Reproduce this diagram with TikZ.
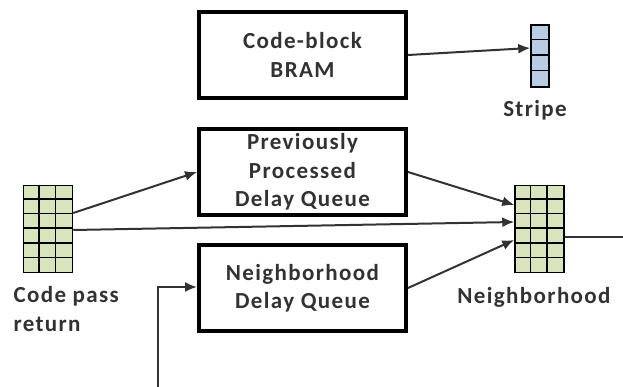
\documentclass[tikz,border=0pt]{standalone}
\usepackage{fontspec}
\setmainfont{Carlito}
\newfontfamily\spacedfont[LetterSpace=6]{Carlito}
\usetikzlibrary{arrows.meta,calc,positioning}
\definecolor{gridgreen}{RGB}{216,228,188}
\definecolor{stripeblue}{RGB}{184,204,228}
\definecolor{inkgray}{RGB}{50,50,50}

\begin{document}
\begin{tikzpicture}[x=1pt,y=-1pt,
  blockbox/.style={draw=black, line width=4pt, minimum width=207pt, minimum height=86pt,
    align=center, text=inkgray, font=\spacedfont\bfseries\fontsize{23}{28.5}\selectfont},
  cellgrid/.style={draw=black, line width=1.5pt, inner sep=0pt},
  link/.style={draw=inkgray, line width=2pt, -{Latex[length=12pt,width=10pt]}},
  caption/.style={text=inkgray, font=\spacedfont\bfseries\fontsize{23}{29}\selectfont}]
\useasboundingbox (0,0) rectangle (623,387);

\node [blockbox] (bram) at (302.5,55) {Code-block\\BRAM};
\node [blockbox] (ppq) at (302.5,172) {Previously\\Processed\\Delay Queue};
\node [blockbox] (ndq) at (302.5,288) {Neighborhood\\Delay Queue};

\node [cellgrid, fill=gridgreen, minimum width=49pt, minimum height=87pt] (cpr) at (48,229) {};
\foreach \i in {1,2}
  \draw [line width=1.5pt] ($(cpr.north west)+(\i*49/3,0)$) -- ($(cpr.south west)+(\i*49/3,0)$);
\foreach \j in {1,2,3,4,5}
  \draw [line width=1.5pt] ($(cpr.north west)+(0,\j*87/6)$) -- ($(cpr.north east)+(0,\j*87/6)$);

\node [cellgrid, fill=gridgreen, minimum width=49pt, minimum height=87pt] (nbh) at (539.5,229) {};
\foreach \i in {1,2}
  \draw [line width=1.5pt] ($(nbh.north west)+(\i*49/3,0)$) -- ($(nbh.south west)+(\i*49/3,0)$);
\foreach \j in {1,2,3,4,5}
  \draw [line width=1.5pt] ($(nbh.north west)+(0,\j*87/6)$) -- ($(nbh.north east)+(0,\j*87/6)$);

\node [cellgrid, fill=stripeblue, minimum width=18pt, minimum height=62pt] (stripe) at (540,56) {};
\foreach \j in {1,2,3}
  \draw [line width=1.5pt] ($(stripe.north west)+(0,\j*62/4)$) -- ($(stripe.north east)+(0,\j*62/4)$);

\node [caption] (stripelbl) at (535,110) {Stripe};
\node [caption] (nbhlbl) at (534,297) {Neighborhood};
\node [caption, align=left, anchor=north west] (cprlbl) at (10,283) {Code pass\\return};

\coordinate (feed) at (158,387);
\coordinate (out) at (623,237);

\draw [link] (bram.east) -- ($(stripe.west)+(0,-8)$);
\draw [link] ($(cpr.east)+(0,-16)$) -- (ppq.west);
\draw [link] ($(cpr.east)+(0,1)$) -- ($(nbh.west)+(0,-7)$);
\draw [link] (ppq.east) -- ($(nbh.west)+(0,-24)$);
\draw [link] (ndq.east) -- ($(nbh.west)+(0,11)$);
\draw [inkgray, line width=2pt] ($(nbh.east)+(0,8)$) -- (out);
\draw [link] (feed) |- ($(ndq.west)+(0,-1)$);

\end{tikzpicture}
\end{document}
